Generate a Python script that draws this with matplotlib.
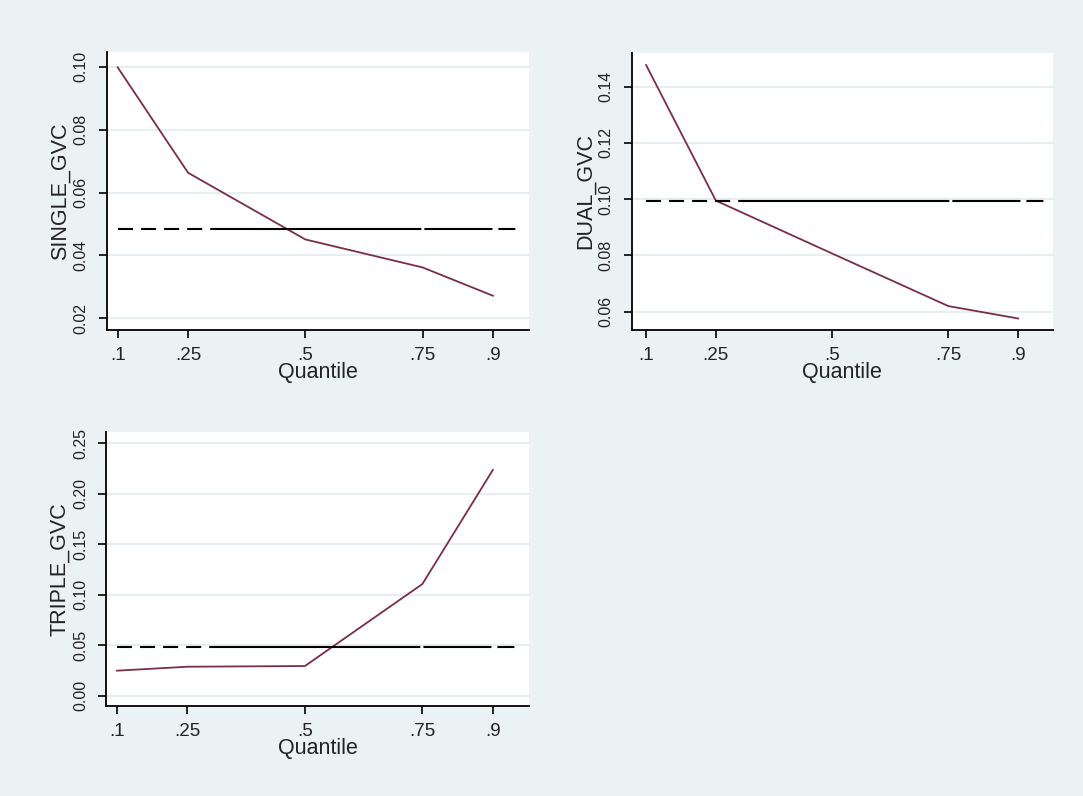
import matplotlib.pyplot as plt
import numpy as np

# quantile regression coefficients by quantile, with the OLS estimate
quantiles = [0.1, 0.25, 0.5, 0.75, 0.9]
qtick_labels = [".1", ".25", ".5", ".75", ".9"]

single_gvc = [0.0998, 0.0663, 0.0451, 0.0362, 0.0272]
single_ols = 0.0484

dual_gvc = [0.1477, 0.0995, 0.0807, 0.0620, 0.0576]
dual_ols = 0.0992

triple_gvc = [0.0248, 0.0287, 0.0294, 0.1106, 0.2236]
triple_ols = 0.0479

plt.rcParams['font.family'] = ['Liberation Sans', 'DejaVu Sans']
plt.rcParams['lines.scale_dashes'] = False

W, H = 1083, 796
bg = '#EAF2F3'
line_col = '#7a2f42'
txt_col = '#222222'
# OLS line: a few dashes, then long solid runs
ols_dashes = (10.8, 5.8, 10.8, 5.8, 10.8, 5.8, 10.8, 5.8, 152, 2.2, 49, 4.3, 12.2, 60)

fig = plt.figure(figsize=(W / 100, H / 100), dpi=100, facecolor=bg)

# plot regions in pixels: left, top, right, bottom
panels = [
    dict(box=(106.7, 51.7, 529, 330), y=single_gvc, ols=single_ols,
         label="SINGLE_GVC", yticks=np.arange(0.02, 0.101, 0.02),
         ylim=(0.0163, 0.1048), xlim=(0.0765, 0.977)),
    dict(box=(631.7, 52.7, 1053, 330), y=dual_gvc, ols=dual_ols,
         label="DUAL_GVC", yticks=np.arange(0.06, 0.141, 0.02),
         ylim=(0.0535, 0.1521), xlim=(0.069, 0.975)),
    dict(box=(106, 431.7, 529, 706), y=triple_gvc, ols=triple_ols,
         label="TRIPLE_GVC", yticks=np.arange(0.0, 0.251, 0.05),
         ylim=(-0.0102, 0.2615), xlim=(0.0765, 0.977)),
]

for p in panels:
    l, t, r, b = p['box']
    aw, ah = r - l, b - t
    ax = fig.add_axes([l / W, 1 - b / H, aw / W, ah / H])
    ax.set_facecolor('white')
    for s in ['top', 'right']:
        ax.spines[s].set_visible(False)
    for s in ['left', 'bottom']:
        ax.spines[s].set_color('black')
        ax.spines[s].set_linewidth(1.3)

    ax.set_xlim(*p['xlim'])
    ax.set_ylim(*p['ylim'])

    ax.set_yticks(p['yticks'])
    ax.set_yticklabels(["{:.2f}".format(v) for v in p['yticks']],
                       rotation=90, va='center', fontsize=11.5, color=txt_col)
    ax.set_xticks(quantiles)
    ax.set_xticklabels(qtick_labels, fontsize=13.5, color=txt_col)
    ax.tick_params(axis='both', direction='out', length=6, width=1.2, color='black')
    ax.tick_params(axis='y', pad=7)
    ax.tick_params(axis='x', pad=6)

    ax.grid(axis='y', color='#E6EEF0', linewidth=1.4)
    ax.set_axisbelow(True)

    ax.plot(quantiles, p['y'], color=line_col, linewidth=1.3, zorder=3)
    ax.hlines(p['ols'], 0.1, 0.955, colors='black', linewidth=1.5,
              linestyles=[(0, ols_dashes)], zorder=4)

    ax.set_ylabel(p['label'], fontsize=15.5, color=txt_col)
    ax.yaxis.set_label_coords(-36 / aw, 0.5)
    ax.set_xlabel("Quantile", fontsize=15.5, color=txt_col)
    ax.xaxis.set_label_coords(0.5, -32 / ah)

fig.savefig("out.png", dpi=100, facecolor=bg)
